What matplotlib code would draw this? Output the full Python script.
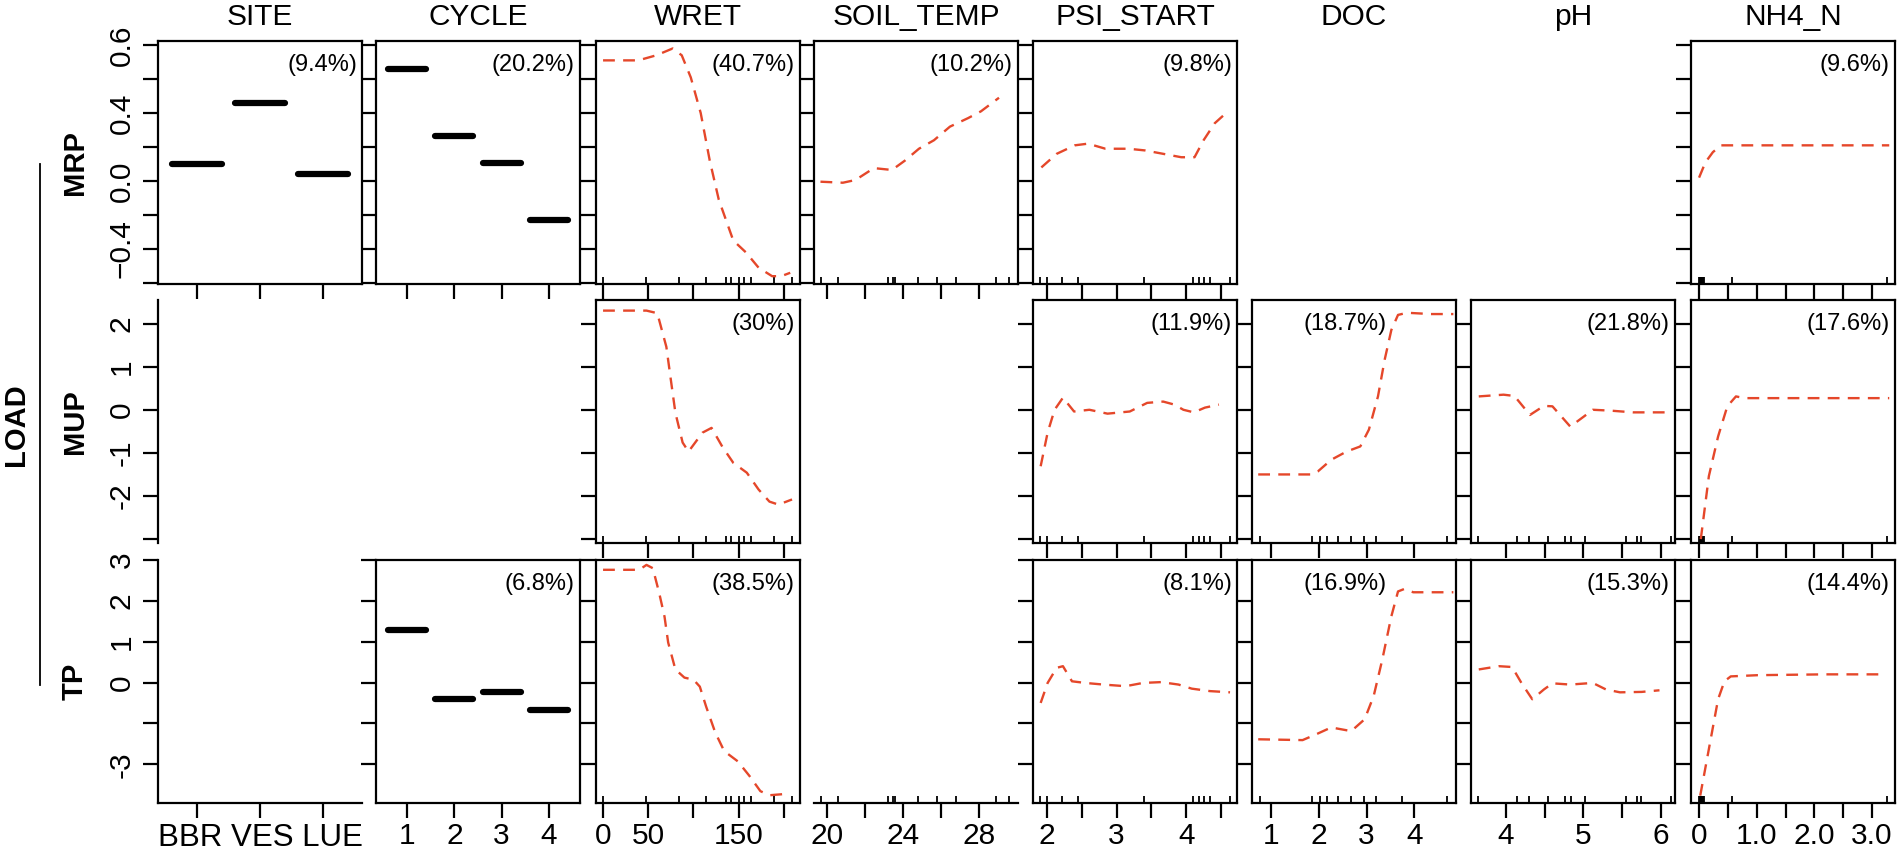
import matplotlib
matplotlib.use('Agg')
import matplotlib.pyplot as plt
from matplotlib.lines import Line2D

plt.rcParams['font.family'] = ['Liberation Sans', 'DejaVu Sans']

W, H = 1900, 851
RED = '#E5472A'

columns = ['SITE', 'CYCLE', 'WRET', 'SOIL_TEMP', 'PSI_START', 'DOC', 'pH', 'NH4_N']
responses = ['MRP', 'MUP', 'TP']

# factor predictors
site_levels = ['BBR', 'VES', 'LUE']
site_mrp = [0.10, 0.46, 0.04]
cycle_levels = ['1', '2', '3', '4']
cycle_mrp = [0.66, 0.265, 0.106, -0.23]
cycle_tp = [1.29, -0.41, -0.23, -0.67]

# continuous predictors - MRP
wret_x_mrp = [0, 39, 59, 77, 87, 97, 108, 118, 128, 144, 158, 172, 187, 197, 207]
wret_mrp = [0.71, 0.71, 0.74, 0.78, 0.74, 0.61, 0.40, 0.12, -0.11, -0.35, -0.42, -0.51, -0.56, -0.56, -0.54]
soil_x_mrp = [19.66, 20.84, 21.5, 22.47, 23.42, 24.1, 24.84, 25.63, 26.47, 27.42, 28.1, 29.05]
soil_mrp = [-0.004, -0.01, 0.006, 0.076, 0.065, 0.12, 0.19, 0.24, 0.32, 0.37, 0.41, 0.49]
psi_x_mrp = [1.92, 2.14, 2.40, 2.59, 2.84, 3.17, 3.41, 3.67, 3.93, 4.12, 4.25, 4.41, 4.60]
psi_mrp = [0.08, 0.16, 0.21, 0.22, 0.19, 0.19, 0.18, 0.16, 0.14, 0.14, 0.24, 0.34, 0.41]
nh4_x_mrp = [0.0, 0.11, 0.24, 0.38, 1.0, 3.3]
nh4_mrp = [0.02, 0.11, 0.17, 0.21, 0.21, 0.21]

# MUP
wret_x_mup = [0, 48, 60, 70, 75, 80, 88, 94.5, 110, 120, 132, 144, 159, 172, 184, 194, 209]
wret_mup = [2.30, 2.30, 2.24, 1.46, 0.69, -0.07, -0.76, -0.97, -0.53, -0.42, -0.86, -1.23, -1.46, -1.85, -2.13, -2.20, -2.08]
psi_x_mup = [1.91, 2.01, 2.11, 2.23, 2.39, 2.61, 2.87, 3.19, 3.44, 3.67, 3.83, 3.96, 4.11, 4.27, 4.47]
psi_mup = [-1.31, -0.53, 0.0, 0.28, -0.04, 0.0, -0.09, -0.04, 0.16, 0.19, 0.12, 0.0, -0.06, 0.05, 0.12]
doc_x_mup = [0.73, 1.85, 1.98, 2.26, 2.58, 2.87, 3.05, 3.24, 3.38, 3.52, 3.66, 3.85, 4.35, 4.82]
doc_mup = [-1.50, -1.50, -1.43, -1.16, -0.97, -0.85, -0.46, 0.31, 1.16, 1.85, 2.20, 2.25, 2.22, 2.22]
ph_x_mup = [3.65, 3.97, 4.11, 4.31, 4.49, 4.60, 4.83, 5.01, 5.12, 5.35, 5.64, 6.10]
ph_mup = [0.31, 0.35, 0.32, -0.12, 0.09, 0.08, -0.39, -0.15, 0.0, -0.02, -0.06, -0.06]
nh4_x_mup = [0.03, 0.17, 0.33, 0.49, 0.64, 0.79, 3.30]
nh4_mup = [-3.0, -1.54, -0.62, 0.08, 0.31, 0.27, 0.27]

# TP
wret_x_tp = [0, 40, 48, 55, 62, 68, 72, 80, 90, 100, 107, 114, 124, 134, 149, 162, 174, 184, 201]
wret_tp = [2.76, 2.76, 2.88, 2.80, 2.20, 1.61, 0.98, 0.32, 0.12, 0.07, -0.10, -0.59, -1.22, -1.68, -1.93, -2.29, -2.66, -2.76, -2.73]
psi_x_tp = [1.91, 2.01, 2.14, 2.23, 2.36, 2.55, 2.81, 3.13, 3.38, 3.64, 3.89, 4.08, 4.34, 4.63]
psi_tp = [-0.50, -0.01, 0.36, 0.40, 0.03, -0.01, -0.05, -0.09, -0.01, 0.01, -0.05, -0.15, -0.21, -0.24]
doc_x_tp = [0.73, 1.66, 1.94, 2.26, 2.68, 2.96, 3.15, 3.33, 3.52, 3.66, 3.79, 3.98, 4.82]
doc_tp = [-1.39, -1.41, -1.27, -1.10, -1.19, -0.90, -0.33, 0.56, 1.62, 2.23, 2.29, 2.21, 2.21]
ph_x_tp = [3.65, 3.91, 4.08, 4.20, 4.34, 4.49, 4.60, 4.83, 5.12, 5.29, 5.47, 5.75, 5.98]
ph_tp = [0.32, 0.40, 0.38, -0.01, -0.41, -0.17, -0.02, -0.05, -0.01, -0.17, -0.24, -0.23, -0.19]
nh4_x_tp = [0.02, 0.17, 0.33, 0.44, 0.55, 1.02, 2.18, 3.11]
nh4_tp = [-2.77, -1.63, -0.41, 0.03, 0.15, 0.18, 0.20, 0.20]

# rug (deciles of predictors)
wret_rug = [0, 48, 84, 114, 136, 142, 150, 156, 164, 189, 209]
soil_rug = [19.7, 20.6, 23.2, 23.5, 23.6, 24.8, 25.8, 26.8, 28.9, 29.6]
psi_rug = [1.9, 2.0, 2.22, 2.45, 3.4, 4.1, 4.18, 4.26, 4.34, 4.63]
doc_rug = [0.77, 1.85, 2.02, 2.17, 2.4, 2.67, 2.94, 3.19, 3.75, 4.69]
ph_rug = [3.64, 4.14, 4.30, 4.54, 4.76, 4.84, 5.02, 5.55, 5.69, 5.74, 6.13]
nh4_rug = [0.0, 0.01, 0.02, 0.03, 0.04, 0.05, 0.06, 0.08, 0.57, 3.26]

# relative influence labels
pct = {
    ('MRP', 'SITE'): '(9.4%)', ('MRP', 'CYCLE'): '(20.2%)', ('MRP', 'WRET'): '(40.7%)',
    ('MRP', 'SOIL_TEMP'): '(10.2%)', ('MRP', 'PSI_START'): '(9.8%)', ('MRP', 'NH4_N'): '(9.6%)',
    ('MUP', 'WRET'): '(30%)', ('MUP', 'PSI_START'): '(11.9%)', ('MUP', 'DOC'): '(18.7%)',
    ('MUP', 'pH'): '(21.8%)', ('MUP', 'NH4_N'): '(17.6%)',
    ('TP', 'CYCLE'): '(6.8%)', ('TP', 'WRET'): '(38.5%)', ('TP', 'PSI_START'): '(8.1%)',
    ('TP', 'DOC'): '(16.9%)', ('TP', 'pH'): '(15.3%)', ('TP', 'NH4_N'): '(14.4%)',
}

bars = {
    ('MRP', 'SITE'): site_mrp, ('MRP', 'CYCLE'): cycle_mrp, ('TP', 'CYCLE'): cycle_tp,
}
curves = {
    ('MRP', 'WRET'): (wret_x_mrp, wret_mrp), ('MRP', 'SOIL_TEMP'): (soil_x_mrp, soil_mrp),
    ('MRP', 'PSI_START'): (psi_x_mrp, psi_mrp), ('MRP', 'NH4_N'): (nh4_x_mrp, nh4_mrp),
    ('MUP', 'WRET'): (wret_x_mup, wret_mup), ('MUP', 'PSI_START'): (psi_x_mup, psi_mup),
    ('MUP', 'DOC'): (doc_x_mup, doc_mup), ('MUP', 'pH'): (ph_x_mup, ph_mup),
    ('MUP', 'NH4_N'): (nh4_x_mup, nh4_mup),
    ('TP', 'WRET'): (wret_x_tp, wret_tp), ('TP', 'PSI_START'): (psi_x_tp, psi_tp),
    ('TP', 'DOC'): (doc_x_tp, doc_tp), ('TP', 'pH'): (ph_x_tp, ph_tp),
    ('TP', 'NH4_N'): (nh4_x_tp, nh4_tp),
}
rugs = {'WRET': wret_rug, 'SOIL_TEMP': soil_rug, 'PSI_START': psi_rug,
        'DOC': doc_rug, 'pH': ph_rug, 'NH4_N': nh4_rug}

# axis settings per column
xlims = {'SITE': (0.38, 3.62), 'CYCLE': (0.345, 4.655), 'WRET': (-7.8, 217.8),
         'SOIL_TEMP': (19.32, 30.05), 'PSI_START': (1.8, 4.73), 'DOC': (0.6, 4.875),
         'pH': (3.55, 6.18), 'NH4_N': (-0.14, 3.40)}
xticks = {'SITE': [1, 2, 3], 'CYCLE': [1, 2, 3, 4], 'WRET': [0, 50, 100, 150, 200],
          'SOIL_TEMP': [20, 22, 24, 26, 28], 'PSI_START': [2, 2.5, 3, 3.5, 4, 4.5],
          'DOC': [1, 2, 3, 4], 'pH': [4, 4.5, 5, 5.5, 6],
          'NH4_N': [0, 0.5, 1, 1.5, 2, 2.5, 3]}
xlabels = {'CYCLE': cycle_levels, 'WRET': ['0', '50', '', '150', ''],
           'SOIL_TEMP': ['20', '', '24', '', '28'], 'PSI_START': ['2', '', '3', '', '4', ''],
           'DOC': ['1', '2', '3', '4'], 'pH': ['4', '', '5', '', '6'],
           'NH4_N': ['0', '', '1.0', '', '2.0', '', '3.0']}
ylims = {'MRP': (-0.606, 0.824), 'MUP': (-3.09, 2.546), 'TP': (-2.95, 3.0)}
yticks = {'MRP': [0.8, 0.6, 0.4, 0.2, 0.0, -0.2, -0.4, -0.6],
          'MUP': [2, 1, 0, -1, -2, -3], 'TP': [3, 2, 1, 0, -1, -2]}
ylabels = {'MRP': ['0.6', '', '0.4', '', '0.0', '', '\u22120.4', ''],
           'MUP': ['2', '1', '0', '-1', '-2', ''], 'TP': ['3', '2', '1', '0', '', '-3']}

present = {
    'MRP': ['SITE', 'CYCLE', 'WRET', 'SOIL_TEMP', 'PSI_START', 'NH4_N'],
    'MUP': ['WRET', 'PSI_START', 'DOC', 'pH', 'NH4_N'],
    'TP': ['CYCLE', 'WRET', 'PSI_START', 'DOC', 'pH', 'NH4_N'],
}

col_left = [158, 376, 596, 814, 1033, 1252, 1471, 1691]
row_top = [41, 300, 560]
pw, ph = 204, 243

fig = plt.figure(figsize=(W / 100, H / 100), dpi=100)

for r, resp in enumerate(responses):
    for c, var in enumerate(columns):
        ax = fig.add_axes([col_left[c] / W, 1 - (row_top[r] + ph) / H, pw / W, ph / H])
        ax.set_xlim(*xlims[var])
        ax.set_ylim(*ylims[resp])
        has = var in present[resp]
        first_col = c == 0
        last_row = r == len(responses) - 1
        for s in ax.spines.values():
            s.set_linewidth(1.6)
            s.set_visible(has)
        if first_col:
            ax.spines['left'].set_visible(True)
        if last_row:
            ax.spines['bottom'].set_visible(True)
        ax.patch.set_visible(False)

        ax.tick_params(direction='out', length=11, width=1.6, labelsize=21.5)
        ax.tick_params(axis='y', pad=5)
        ax.tick_params(axis='x', pad=3)
        if has or first_col:
            ax.set_yticks(yticks[resp])
            if first_col:
                ax.set_yticklabels(ylabels[resp], rotation=90, va='center', ha='right')
            else:
                ax.set_yticklabels([])
        else:
            ax.set_yticks([])
        if has or last_row:
            ax.set_xticks(xticks[var])
            if last_row and var in xlabels:
                ax.set_xticklabels(xlabels[var])
            else:
                ax.tick_params(axis='x', labelbottom=False)
        else:
            ax.set_xticks([])

        if var in rugs and (has or last_row):
            ax.vlines(rugs[var], 0, 7 / ph, transform=ax.get_xaxis_transform(),
                      colors='black', lw=1.3)

        if (resp, var) in bars:
            vals = bars[(resp, var)]
            for i, v in enumerate(vals):
                ax.plot([i + 1 - 0.4, i + 1 + 0.4], [v, v], color='black', lw=4.5,
                        solid_capstyle='round')
        if (resp, var) in curves:
            xs, ys = curves[(resp, var)]
            ax.plot(xs, ys, color=RED, lw=1.7, dashes=(5, 3.5))
        if (resp, var) in pct:
            tx = 0.66 if var == 'DOC' else 0.975
            ax.text(tx, 0.945, pct[(resp, var)], transform=ax.transAxes,
                    ha='right', va='top', fontsize=17)

# site names are written as one string under the first column
fig.text((col_left[0] + pw / 2) / W, 1 - 823 / H, ' '.join(site_levels),
         ha='center', va='top', fontsize=22.5)

# column titles
for c, var in enumerate(columns):
    fig.text((col_left[c] + pw / 2) / W, 1 - 25 / H, var, ha='center', va='baseline',
             fontsize=21.5)

# row labels
for r, resp in enumerate(responses):
    fig.text(75 / W, 1 - (row_top[r] + ph / 2) / H, resp, rotation=90, ha='center',
             va='center', fontsize=21, fontweight='bold')
fig.text(16 / W, 1 - 425 / H, 'LOAD', rotation=90, ha='center', va='center',
         fontsize=21, fontweight='bold')
fig.add_artist(Line2D([40 / W, 40 / W], [1 - 164 / H, 1 - 685 / H], color='black', lw=1.3))

fig.savefig('out.png', dpi=100)
